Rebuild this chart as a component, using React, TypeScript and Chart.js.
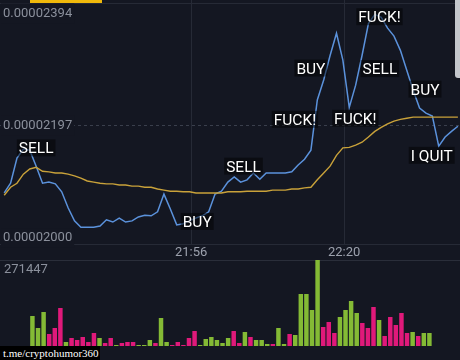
import React, { useEffect, useRef } from "react";
import { Chart, registerables } from "chart.js";

Chart.register(...registerables);

// ---- data (one entry per 1-minute candle) ----
const candle: number[] = [
  0, 1, 2, 3, 4, 5, 6, 7, 8, 9, 10, 11, 12, 13, 14, 15, 16, 17, 18, 19,
  20, 21, 22, 23, 24, 25, 26, 27, 28, 29, 30, 31, 32, 33, 34, 35, 36, 37, 38, 39,
  40, 41, 42, 43, 44, 45, 46, 47, 48, 49, 50, 51, 52, 53, 54, 55, 56, 57, 58, 59,
  60, 61, 62, 63, 64, 65, 66, 67, 68, 69, 70, 71,
];

const price: number[] = [
  0.00002079, 0.00002096, 0.0000214, 0.00002156, 0.00002154, 0.00002126, 0.00002096, 0.00002098, 0.00002095, 0.00002081,
  0.00002053, 0.0000203, 0.00002019, 0.00002019, 0.00002019, 0.00002021, 0.00002032, 0.00002028, 0.00002035, 0.00002028,
  0.0000203, 0.00002037, 0.0000204, 0.00002039, 0.00002046, 0.00002077, 0.00002051, 0.00002023, 0.00002025, 0.0000203,
  0.00002035, 0.00002039, 0.00002046, 0.00002077, 0.00002082, 0.00002098, 0.00002107, 0.00002098, 0.00002102, 0.00002114,
  0.00002103, 0.00002114, 0.00002114, 0.00002114, 0.00002114, 0.00002116, 0.00002128, 0.00002138, 0.00002154, 0.00002242,
  0.00002277, 0.0000232, 0.00002359, 0.00002312, 0.00002229, 0.00002268, 0.0000232, 0.00002376, 0.00002392, 0.00002387,
  0.00002368, 0.00002354, 0.00002329, 0.00002294, 0.00002259, 0.00002228, 0.00002219, 0.00002214, 0.00002161, 0.00002177,
  0.00002187, 0.00002196,
];

const movingAverage: number[] = [
  0.00002075, 0.00002089, 0.00002096, 0.00002112, 0.00002121, 0.00002124, 0.00002117, 0.00002116, 0.00002114, 0.00002114,
  0.00002112, 0.00002109, 0.00002105, 0.000021, 0.00002098, 0.00002096, 0.00002095, 0.00002095, 0.00002093, 0.00002093,
  0.00002091, 0.00002091, 0.00002089, 0.00002089, 0.00002086, 0.00002084, 0.00002082, 0.00002082, 0.00002081, 0.00002081,
  0.00002079, 0.00002079, 0.00002079, 0.00002079, 0.00002079, 0.00002081, 0.00002081, 0.00002081, 0.00002082, 0.00002082,
  0.00002082, 0.00002082, 0.00002084, 0.00002084, 0.00002084, 0.00002086, 0.00002086, 0.00002088, 0.00002089, 0.00002102,
  0.00002114, 0.00002126, 0.00002145, 0.00002158, 0.00002159, 0.00002163, 0.00002168, 0.00002177, 0.00002187, 0.00002194,
  0.000022, 0.00002205, 0.00002208, 0.0000221, 0.00002212, 0.00002212, 0.00002212, 0.00002212, 0.00002212, 0.00002212,
  0.00002212, 0.00002212,
];

const volume: number[] = [
  94700, 56800, 107300, 37900, 56800, 119900, 12600, 25300, 18900, 28400,
  12600, 41000, 25300, 9500, 25300, 3200, 9500, 12600, 12600, 3200,
  3200, 18900, 9500, 88400, 12600, 3200, 12600, 3200, 25300, 47300,
  3200, 22100, 28400, 18900, 9500, 25300, 47300, 9500, 44200, 28400,
  18900, 18900, 6300, 6300, 56800, 6300, 37900, 34700, 164100, 164100,
  113600, 271447, 60000, 75800, 41000, 91500, 113600, 142000, 104200, 72600,
  56800, 123100, 82100, 31600, 91500, 66300, 104200, 41000, 44200, 31600,
  41000, 41000,
];

// 1 = up candle (green), -1 = down candle (pink)
const direction: number[] = [
  1, 1, 1, -1, -1, -1, 1, -1, -1, -1,
  -1, -1, 1, -1, -1, 1, -1, -1, -1, 1,
  1, 1, -1, 1, 1, -1, -1, -1, -1, -1,
  1, 1, 1, 1, 1, 1, -1, -1, 1, -1,
  1, 1, 1, -1, 1, 1, -1, 1, 1, 1,
  1, 1, -1, -1, -1, 1, 1, 1, 1, -1,
  -1, -1, 1, -1, -1, -1, -1, -1, 1, -1,
  1, 1,
];

const priceTicks: number[] = [0.00002, 0.00002197, 0.00002394];
const timeTickPos: number[] = [29.25, 53.2];
const timeTickLabels: string[] = ["21:56", "22:20"];

const noteText: string[] = ["SELL", "BUY", "SELL", "FUCK!", "BUY", "FUCK!", "SELL", "FUCK!", "BUY", "I QUIT"];
const noteX: number[] = [5.0, 30.2, 37.45, 45.5, 48.0, 54.95, 58.8, 58.73, 65.85, 66.9];
const notePrice: number[] = [
  0.00002158, 0.00002029, 0.00002126, 0.00002208, 0.00002298,
  0.0000221, 0.00002297, 0.00002388, 0.00002261, 0.00002145,
];

// ---- style ----
const BG = "#141722";
const X_MIN = -0.657;
const X_MAX = 71.33;
const Y_MIN = 0.000019895;
const Y_MAX = 0.000024173;
const GREEN = "#84ba35";
const PINK = "#e0197a";

const notesPlugin = {
  id: "memeNotes",
  afterDatasetsDraw(chart: any) {
    const { ctx, scales } = chart;
    const xs = scales.x;
    const ys = scales.y;
    ctx.save();
    ctx.font = "15.5px Roboto";
    ctx.textAlign = "center";
    ctx.textBaseline = "alphabetic";
    noteText.forEach((t, i) => {
      const px = xs.getPixelForValue(noteX[i]);
      const py = ys.getPixelForValue(notePrice[i]);
      const w = ctx.measureText(t).width;
      ctx.fillStyle = "rgba(0,0,0,0.45)";
      ctx.fillRect(px - w / 2 - 2, py - 8.5, w + 4, 17);
      ctx.shadowColor = "rgba(0,0,0,0.95)";
      ctx.shadowBlur = 3;
      ctx.fillStyle = "#ffffff";
      ctx.fillText(t, px, py + 5.5);
      ctx.shadowBlur = 0;
    });
    ctx.restore();
  },
};

const volumeLabelPlugin = {
  id: "volumeLabel",
  afterDraw(chart: any) {
    const { ctx, chartArea, scales } = chart;
    ctx.save();
    ctx.font = "13px Roboto";
    ctx.fillStyle = "#8b909c";
    ctx.textAlign = "left";
    ctx.textBaseline = "alphabetic";
    ctx.fillText(String(scales.y.max), chartArea.left + 4, chartArea.top + 12.6);
    ctx.restore();
  },
};

export default function App() {
  const priceRef = useRef<HTMLCanvasElement | null>(null);
  const volRef = useRef<HTMLCanvasElement | null>(null);

  useEffect(() => {
    document.body.style.margin = "0";
    document.body.style.background = BG;

    const priceChart = new Chart(priceRef.current as HTMLCanvasElement, {
      type: "line",
      data: {
        datasets: [
          {
            data: candle.map((c, i) => ({ x: c, y: movingAverage[i] })),
            borderColor: "#c9a23a",
            borderWidth: 1.4,
            pointRadius: 0,
            tension: 0,
            fill: false,
          },
          {
            data: candle.map((c, i) => ({ x: c, y: price[i] })),
            borderColor: "#5b92dc",
            borderWidth: 1.5,
            pointRadius: 0,
            tension: 0,
            fill: false,
          },
        ],
      },
      options: {
        animation: false,
        responsive: false,
        devicePixelRatio: 1,
        layout: { padding: 0 },
        plugins: { legend: { display: false }, tooltip: { enabled: false } },
        scales: {
          x: {
            type: "linear",
            min: X_MIN,
            max: X_MAX,
            afterBuildTicks: (s: any) => {
              s.ticks = timeTickPos.map((v) => ({ value: v }));
            },
            afterFit: (s: any) => {
              s.height = 16;
              s.paddingLeft = 0;
              s.paddingRight = 0;
            },
            ticks: {
              callback: (_v: any, i: number) => timeTickLabels[i],
              color: "#9ca1ad",
              font: { family: "Roboto", size: 13 },
              padding: 1,
              maxRotation: 0,
              autoSkip: false,
            },
            grid: { drawTicks: false, color: "#262a36", lineWidth: 1 },
            border: { display: true, color: "#262a36" },
          },
          y: {
            type: "linear",
            position: "left",
            min: Y_MIN,
            max: Y_MAX,
            afterBuildTicks: (s: any) => {
              s.ticks = priceTicks.map((v) => ({ value: v }));
            },
            afterFit: (s: any) => {
              s.width = 0;
              s.paddingTop = 0;
              s.paddingBottom = 0;
            },
            ticks: {
              mirror: true,
              padding: 3,
              color: "#8b909c",
              font: { family: "Roboto", size: 13 },
              callback: (v: any) => Number(v).toFixed(8),
              showLabelBackdrop: true,
              backdropColor: BG,
              backdropPadding: 2,
            },
            grid: {
              drawTicks: false,
              color: (c: any) => (c.index === 1 ? "#3a3f4c" : "rgba(0,0,0,0)"),
              lineWidth: 1,
            },
            border: { display: false, dash: [3, 3] },
          },
        },
      } as any,
      plugins: [notesPlugin],
    });

    const volChart = new Chart(volRef.current as HTMLCanvasElement, {
      type: "bar",
      data: {
        datasets: [
          {
            data: candle.map((c, i) => ({ x: c, y: volume[i] })),
            backgroundColor: direction.map((d) => (d > 0 ? GREEN : PINK)),
            borderWidth: 0,
            barPercentage: 0.8,
            categoryPercentage: 1,
          },
        ],
      },
      options: {
        animation: false,
        responsive: false,
        devicePixelRatio: 1,
        layout: { padding: { top: 0, bottom: 14, left: 0, right: 0 } },
        plugins: { legend: { display: false }, tooltip: { enabled: false } },
        scales: {
          x: { type: "linear", min: X_MIN, max: X_MAX, display: false },
          y: { type: "linear", min: 0, max: Math.max(...volume), display: false },
        },
      } as any,
      plugins: [volumeLabelPlugin],
    });

    return () => {
      priceChart.destroy();
      volChart.destroy();
    };
  }, []);

  return (
    <div
      style={{
        position: "fixed",
        left: 0,
        top: 0,
        width: 460,
        height: 360,
        background: BG,
        overflow: "hidden",
      }}
    >
      <div style={{ position: "absolute", left: 0, top: 3, width: 460, height: 1, background: "#262a36" }} />
      <div style={{ position: "absolute", left: 0, top: 260, width: 460, height: 1, background: "#2a2e3a" }} />
      <canvas
        ref={priceRef}
        width={460}
        height={260}
        style={{ position: "absolute", left: 0, top: 0, width: 460, height: 260 }}
      />
      <canvas
        ref={volRef}
        width={460}
        height={100}
        style={{ position: "absolute", left: 0, top: 260, width: 460, height: 100 }}
      />
      <div style={{ position: "absolute", left: 30, top: 0, width: 72, height: 3, background: "#f0b90b" }} />
      <div
        style={{
          position: "absolute",
          left: 455,
          top: 0,
          width: 5,
          height: 78,
          background: "#c4c7cc",
          borderBottomLeftRadius: 3,
        }}
      />
      <div
        style={{
          position: "absolute",
          left: 0,
          top: 346,
          width: 100,
          height: 14,
          background: "#000000",
          color: "#ffffff",
          fontFamily: "'Liberation Serif', serif",
          fontSize: 11,
          lineHeight: "14px",
          paddingLeft: 3,
          boxSizing: "border-box",
          whiteSpace: "nowrap",
        }}
      >
        t.me/cryptohumor360
      </div>
    </div>
  );
}
